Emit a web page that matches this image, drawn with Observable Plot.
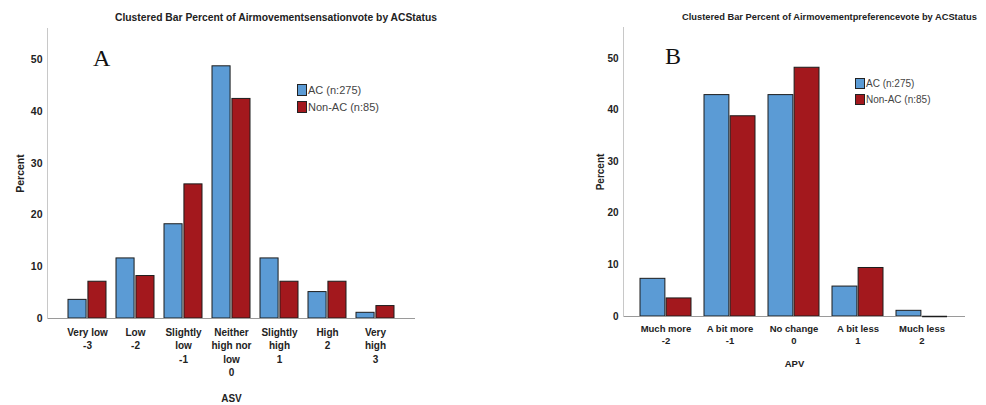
<!DOCTYPE html>
<html><head><meta charset="utf-8">
<script src="https://cdn.jsdelivr.net/npm/d3@7"></script>
<script src="https://cdn.jsdelivr.net/npm/@observablehq/plot@0.6"></script>
<style>
body{margin:0;background:#fff;}
#wrap{position:relative;width:986px;height:405px;overflow:hidden;font-family:"Liberation Sans",Arial,sans-serif;background:#fff;}
.title{position:absolute;font-weight:bold;color:#222;white-space:nowrap;line-height:1;}
.letter{position:absolute;font-family:"Liberation Serif","Times New Roman",serif;color:#111;line-height:1;}
.legend{position:absolute;color:#444;}
.legend .row{display:flex;align-items:center;}
.sw{display:inline-block;border:1px solid #222;box-sizing:border-box;margin-right:1px;}
</style></head><body><div id="wrap"></div>
<script>
// ---- data ----
const asvCategories = ["Very low\n-3","Low\n-2","Slightly\nlow\n-1","Neither\nhigh nor\nlow\n0","Slightly\nhigh\n1","High\n2","Very\nhigh\n3"];
const asvAC    = [3.6, 11.6, 18.2, 48.7, 11.6, 5.1, 1.1];
const asvNonAC = [7.1, 8.2, 25.9, 42.4, 7.1, 7.1, 2.4];
const apvCategories = ["Much more\n-2","A bit more\n-1","No change\n0","A bit less\n1","Much less\n2"];
const apvAC    = [7.3, 42.9, 42.9, 5.8, 1.1];
const apvNonAC = [3.5, 38.8, 48.2, 9.4, 0];
const series = ["AC (n:275)", "Non-AC (n:85)"];
const colors = ["#5b9bd5", "#a3181d"];
const yTicks = [0, 10, 20, 30, 40, 50];
const titles = ["Clustered Bar Percent of Airmovementsensationvote by ACStatus",
                "Clustered Bar Percent of Airmovementpreferencevote by ACStatus"];
const xLabels = ["ASV", "APV"];
const panelLetters = ["A", "B"];

const wrap = document.getElementById("wrap");

function chart(o) {
  const rows = series.flatMap((s, j) => o.cats.map((c, i) => ({cat: c, series: s, value: (j ? o.non : o.ac)[i]})));
  const bw = Plot.scale({x: {type: "band", domain: o.cats, range: [o.ml, o.width - o.mr], paddingInner: 0.2, paddingOuter: o.po}}).bandwidth;
  const half = bw / 2 + 0.5;
  const s0 = rows.filter(d => d.series === series[0]);
  const s1 = rows.filter(d => d.series === series[1]);
  const plot = Plot.plot({
    width: o.width, height: o.height,
    marginTop: o.mt, marginBottom: o.mb, marginLeft: o.ml, marginRight: o.mr,
    style: {fontFamily: "'Liberation Sans', Arial, sans-serif", fontSize: o.fs + "px", color: "#222", background: "transparent"},
    x: {domain: o.cats, paddingInner: 0.2, paddingOuter: o.po, label: null, axis: null},
    y: {domain: [0, 56], label: null, axis: null},
    marks: [
      Plot.barY(s0, {x: "cat", y: "value", fill: colors[0], stroke: "#1c1c1c", strokeWidth: 1, insetRight: half}),
      Plot.barY(s1, {x: "cat", y: "value", fill: colors[1], stroke: "#1c1c1c", strokeWidth: 1, insetLeft: half}),
      Plot.ruleY([0], {stroke: "#9a9a9a"}),
      Plot.tickY(s0.filter(d => d.value === 0), {x: "cat", y: "value", stroke: "#1c1c1c", strokeWidth: 1.5, insetRight: half}),
      Plot.tickY(s1.filter(d => d.value === 0), {x: "cat", y: "value", stroke: "#1c1c1c", strokeWidth: 1.5, insetLeft: half}),
      Plot.frame({anchor: "left", stroke: "#c8c8c8"}),
      Plot.axisY({ticks: yTicks, tickSize: 0, tickPadding: 5, fontWeight: "bold", fontSize: o.fs + 0.5,
                  label: "Percent", labelAnchor: "center", labelOffset: o.ylo, labelArrow: false}),
      Plot.axisX({tickSize: 0, tickPadding: o.xtp, fontWeight: "bold", lineHeight: o.lh,
                  label: o.xLabel, labelAnchor: "center", labelOffset: o.xlo, labelArrow: false})
    ]
  });
  plot.style.position = "absolute";
  plot.style.left = o.left + "px";
  plot.style.top = "0px";
  wrap.appendChild(plot);
}

chart({cats: asvCategories, ac: asvAC, non: asvNonAC, left: 0, width: 480, height: 405,
       mt: 28, mb: 87, ml: 47, mr: 65, po: 0.39, fs: 10, lh: 1.33, xtp: 8, xlo: 83, ylo: 31, xLabel: xLabels[0]});
chart({cats: apvCategories, ac: apvAC, non: apvNonAC, left: 493, width: 493, height: 405,
       mt: 27, mb: 89, ml: 130, mr: 21, po: 0.27, fs: 9.5, lh: 1.3, xtp: 6.5, xlo: 50, ylo: 27, xLabel: xLabels[1]});

function addTitle(text, left, top, fs) {
  const t = document.createElement("div");
  t.className = "title"; t.textContent = text;
  t.style.left = left + "px"; t.style.top = top + "px"; t.style.fontSize = fs + "px";
  wrap.appendChild(t);
}
addTitle(titles[0], 115, 13, 10.3);
addTitle(titles[1], 682, 12.5, 9.3);

function addLetter(ch, left, top) {
  const t = document.createElement("div");
  t.className = "letter"; t.textContent = ch;
  t.style.left = left + "px"; t.style.top = top + "px"; t.style.fontSize = "24px";
  wrap.appendChild(t);
}
addLetter(panelLetters[0], 93, 46);
addLetter(panelLetters[1], 665, 44);

function addLegend(left, top, fs, rowH, sw, sh) {
  const lg = document.createElement("div");
  lg.className = "legend"; lg.style.left = left + "px"; lg.style.top = top + "px"; lg.style.fontSize = fs + "px";
  series.forEach((s, i) => {
    const r = document.createElement("div"); r.className = "row"; r.style.height = rowH + "px";
    const b = document.createElement("span"); b.className = "sw";
    b.style.width = sw + "px"; b.style.height = sh + "px"; b.style.background = colors[i];
    const tx = document.createElement("span"); tx.textContent = s;
    r.appendChild(b); r.appendChild(tx); lg.appendChild(r);
  });
  wrap.appendChild(lg);
}
addLegend(297, 81, 11, 17, 10, 12);
addLegend(855, 75, 10, 16, 10, 11);
</script></body></html>
